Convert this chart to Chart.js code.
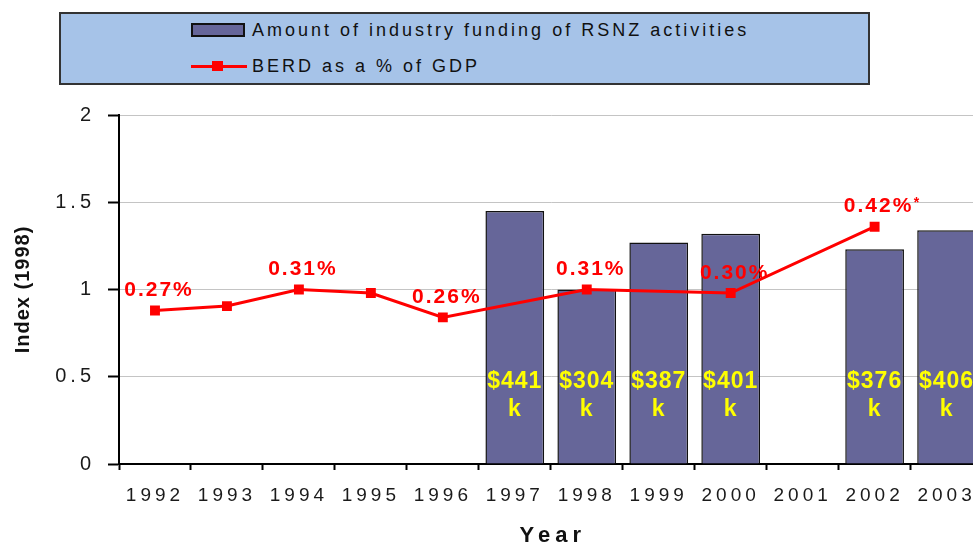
<!DOCTYPE html>
<html>
<head>
<meta charset="utf-8">
<script src="https://cdn.jsdelivr.net/npm/chart.js@4.4.0/dist/chart.umd.min.js"></script>
<style>
    html, body { margin: 0; padding: 0; background: #fff; overflow: hidden; }
    #wrap { position: relative; width: 973px; height: 546px; overflow: hidden; }
    #grafica { position: absolute; left: 0; top: 0; }
    #leyenda {
        position: absolute; left: 59px; top: 12px; width: 807px; height: 69px;
        background: #a6c3e8; border: 2px solid #333;
        font-family: Arial, "Liberation Sans", sans-serif; font-size: 18px;
        letter-spacing: 3px; color: #111;
    }
    .item { position: absolute; left: 130px; height: 20px; line-height: 20px; white-space: nowrap; }
    .item span.txt { position: absolute; left: 61px; top: 0; }
    .muestra-barra { position: absolute; left: 0; top: 3px; width: 54px; height: 14px; box-sizing: border-box; border: 2px solid #111; }
    .muestra-linea { position: absolute; left: 0; top: 9px; width: 56px; height: 3px; }
    .muestra-punto { position: absolute; left: 21px; top: 5px; width: 11px; height: 10px; }
</style>
</head>
<body>
<div id="wrap">
    <canvas id="grafica" width="990" height="546"></canvas>
    <div id="leyenda"></div>
</div>
<script>
// --- DATOS ---
const anios = ['1992', '1993', '1994', '1995', '1996', '1997', '1998', '1999', '2000', '2001', '2002', '2003'];
const indiceFinanciamiento = [null, null, null, null, null, 1.45, 1.0, 1.27, 1.32, null, 1.23, 1.34];
const montoMiles = [null, null, null, null, null, 441, 304, 387, 401, null, 376, 406];
const indiceBerd = [0.88, 0.905, 1.0, 0.98, 0.84, null, 1.0, null, 0.98, null, 1.36, null];
const etiquetasBerd = ['0.27%', '', '0.31%', '', '0.26%', '', '0.31%', '', '0.30%', '', '0.42%*', ''];
const ticksY = [0, 0.5, 1, 1.5, 2];

const familia = 'Arial, "Liberation Sans", sans-serif';

// espaciado de letras (el original esta estirado a lo ancho)
const espaciado = {
    id: 'espaciado',
    beforeLayout(chart) { chart.ctx.letterSpacing = '4px'; },
    beforeDraw(chart) { chart.ctx.letterSpacing = '4px'; }
};

// etiquetas de barras, de la linea y titulos de ejes
const etiquetas = {
    id: 'etiquetas',
    afterDatasetsDraw(chart) {
        const { ctx, chartArea } = chart;
        ctx.save();
        ctx.textAlign = 'center';
        ctx.textBaseline = 'middle';

        // montos dentro de las barras
        const metaBarras = chart.getDatasetMeta(1);
        ctx.fillStyle = '#ffff00';
        ctx.font = 'bold 23px ' + familia;
        ctx.letterSpacing = '1px';
        montoMiles.forEach((m, i) => {
            if (m == null) return;
            const bx = metaBarras.data[i].x;
            ctx.fillText('$' + m, bx, chartArea.bottom - 82);
            ctx.fillText('k', bx, chartArea.bottom - 54);
        });

        // porcentajes sobre la linea
        const metaLinea = chart.getDatasetMeta(0);
        ctx.fillStyle = '#ff0000';
        etiquetasBerd.forEach((t, i) => {
            if (!t) return;
            const p = metaLinea.data[i];
            const asterisco = t.endsWith('*');
            const texto = asterisco ? t.slice(0, -1) : t;
            ctx.font = 'bold 21px ' + familia;
            ctx.letterSpacing = '2px';
            ctx.fillText(texto, p.x + 4, p.y - 20);
            if (asterisco) {
                const w = ctx.measureText(texto).width;
                ctx.font = 'bold 14px ' + familia;
                ctx.letterSpacing = '0px';
                ctx.fillText('*', p.x + 4 + w / 2 + 3, p.y - 24);
            }
        });
        ctx.restore();
    },
    afterDraw(chart) {
        const { ctx, chartArea } = chart;
        ctx.save();
        ctx.fillStyle = '#111';
        ctx.textAlign = 'center';
        ctx.textBaseline = 'middle';

        ctx.font = 'bold 20px ' + familia;
        ctx.letterSpacing = '1px';
        ctx.translate(23, (chartArea.top + chartArea.bottom) / 2);
        ctx.rotate(-Math.PI / 2);
        ctx.fillText('Index (1998)', 0, 0);
        ctx.setTransform(1, 0, 0, 1, 0, 0);

        ctx.font = 'bold 22px ' + familia;
        ctx.letterSpacing = '5px';
        ctx.fillText('Year', (chartArea.left + chartArea.right) / 2 + 2, 536);
        ctx.restore();
    }
};

const ctx = document.getElementById('grafica');

const grafica = new Chart(ctx, {
    type: 'bar',
    data: {
        labels: anios,
        datasets: [
            {
                type: 'line',
                label: 'BERD as a % of GDP',
                data: indiceBerd,
                borderColor: '#ff0000',
                backgroundColor: '#ff0000',
                borderWidth: 3,
                pointStyle: 'rect',
                pointRadius: 7,
                pointHoverRadius: 7,
                pointBorderWidth: 0,
                spanGaps: true,
                tension: 0,
                order: 0
            },
            {
                type: 'bar',
                label: 'Amount of industry funding of RSNZ activities',
                data: indiceFinanciamiento,
                backgroundColor: '#666699',
                borderColor: '#111',
                borderWidth: 1.5,
                barPercentage: 0.816,
                categoryPercentage: 1,
                order: 1
            }
        ]
    },
    options: {
        responsive: false,
        animation: false,
        layout: { padding: { top: 115, right: 3, left: 0, bottom: 0 } },
        plugins: {
            legend: { display: false },
            tooltip: { enabled: false }
        },
        scales: {
            x: {
                grid: { drawOnChartArea: false, offset: true, tickLength: 6, color: '#000', tickColor: '#000', tickWidth: 2 },
                border: { color: '#000', width: 2 },
                ticks: { color: '#1a1a1a', font: { family: familia, size: 19 }, padding: 14, maxRotation: 0, autoSkip: false },
                afterFit: s => { s.height = 82; }
            },
            y: {
                min: 0,
                max: 2,
                afterBuildTicks: s => { s.ticks = ticksY.map(v => ({ value: v })); },
                grid: { color: '#c4c4c4', tickColor: '#000', tickLength: 11, tickWidth: 2, lineWidth: 1 },
                border: { color: '#000', width: 2 },
                ticks: { color: '#1a1a1a', font: { family: familia, size: 20 }, padding: 13, callback: v => String(v) },
                afterFit: s => { s.width = 119; }
            }
        }
    },
    plugins: [espaciado, etiquetas]
});

// --- LEYENDA (HTML) ---
function construirLeyenda(chart) {
    const cont = document.getElementById('leyenda');
    cont.innerHTML = '';
    const barras = chart.data.datasets[1];
    const linea = chart.data.datasets[0];

    const fila1 = document.createElement('div');
    fila1.className = 'item';
    fila1.style.top = '6px';
    fila1.innerHTML = `<span class="muestra-barra" style="background:${barras.backgroundColor}"></span><span class="txt">${barras.label}</span>`;
    cont.appendChild(fila1);

    const fila2 = document.createElement('div');
    fila2.className = 'item';
    fila2.style.top = '42px';
    fila2.innerHTML = `<span class="muestra-linea" style="background:${linea.borderColor}"></span><span class="muestra-punto" style="background:${linea.borderColor}"></span><span class="txt">${linea.label}</span>`;
    cont.appendChild(fila2);
}
construirLeyenda(grafica);
</script>
</body>
</html>
